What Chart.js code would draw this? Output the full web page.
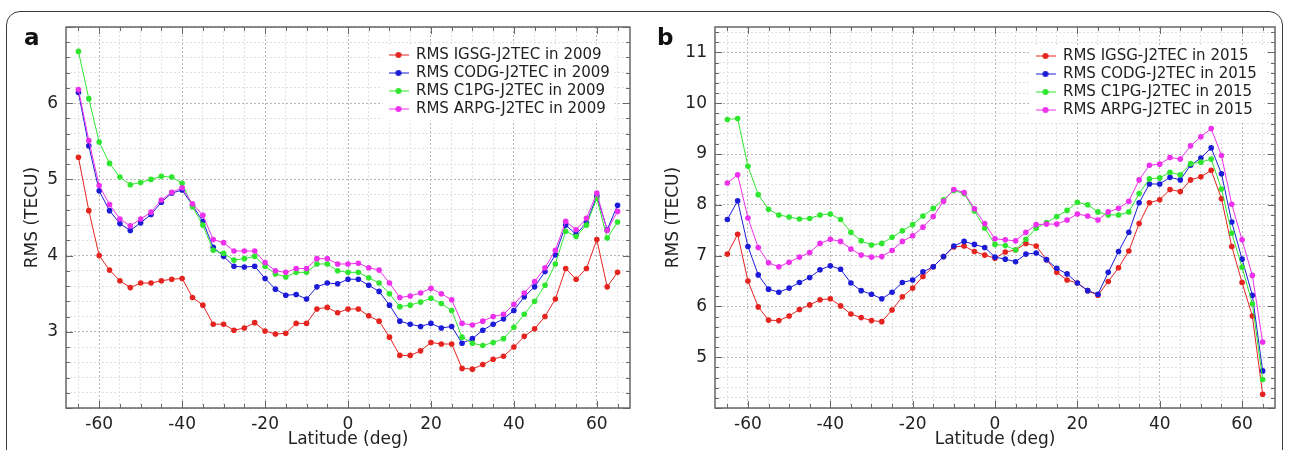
<!DOCTYPE html>
<html>
<head>
<meta charset="utf-8">
<script src="https://cdn.jsdelivr.net/npm/chart.js@4.4.1/dist/chart.umd.min.js"></script>
<style>
  html, body { margin: 0; padding: 0; background: #fff; overflow: hidden; }
  body { width: 1290px; height: 450px; position: relative; font-family: "DejaVu Sans", sans-serif; }
  .frame { position: absolute; left: 6px; top: 11px; width: 1277px; height: 520px; border: 1px solid #3a3a3a; border-radius: 14px; box-sizing: border-box; }
  .panel { position: absolute; top: 0; width: 645px; height: 450px; }
  .tag { position: absolute; top: 24px; font: bold 23px "DejaVu Sans", sans-serif; color: #111; }
</style>
</head>
<body>
<div class="frame"></div>
<div class="panel" style="left:0"><canvas id="chartA" width="645" height="450"></canvas></div>
<div class="panel" style="left:645px"><canvas id="chartB" width="645" height="450"></canvas></div>
<div class="tag" style="left:24px">a</div>
<div class="tag" style="left:657px">b</div>
<script>
'use strict';

var latitude = [-65, -62.5, -60, -57.5, -55, -52.5, -50, -47.5, -45, -42.5,
  -40, -37.5, -35, -32.5, -30, -27.5, -25, -22.5, -20, -17.5,
  -15, -12.5, -10, -7.5, -5, -2.5, 0, 2.5, 5, 7.5,
  10, 12.5, 15, 17.5, 20, 22.5, 25, 27.5, 30, 32.5,
  35, 37.5, 40, 42.5, 45, 47.5, 50, 52.5, 55, 57.5,
  60, 62.5, 65];

// panel a, 2009
var igsg2009 = [5.29, 4.59, 4.00, 3.81, 3.67, 3.58, 3.64, 3.64, 3.67, 3.69,
  3.70, 3.45, 3.35, 3.10, 3.10, 3.02, 3.05, 3.12, 3.01, 2.97,
  2.98, 3.11, 3.11, 3.30, 3.32, 3.25, 3.30, 3.30, 3.21, 3.14,
  2.93, 2.69, 2.69, 2.75, 2.86, 2.84, 2.84, 2.52, 2.51, 2.57,
  2.64, 2.68, 2.80, 2.94, 3.04, 3.20, 3.43, 3.83, 3.69, 3.83,
  4.21, 3.59, 3.78];
var codg2009 = [6.14, 5.44, 4.85, 4.59, 4.42, 4.33, 4.43, 4.54, 4.70, 4.82,
  4.86, 4.66, 4.45, 4.11, 3.99, 3.86, 3.85, 3.86, 3.70, 3.56,
  3.48, 3.49, 3.43, 3.59, 3.64, 3.63, 3.69, 3.69, 3.61, 3.53,
  3.35, 3.14, 3.10, 3.07, 3.11, 3.05, 3.07, 2.85, 2.91, 3.02,
  3.10, 3.17, 3.28, 3.46, 3.59, 3.79, 4.01, 4.40, 4.28, 4.43,
  4.78, 4.34, 4.66];
var c1pg2009 = [6.68, 6.06, 5.49, 5.21, 5.03, 4.93, 4.96, 5.00, 5.04, 5.03,
  4.95, 4.64, 4.40, 4.07, 4.03, 3.94, 3.96, 3.99, 3.86, 3.76,
  3.72, 3.78, 3.78, 3.89, 3.89, 3.80, 3.78, 3.78, 3.71, 3.64,
  3.50, 3.33, 3.35, 3.39, 3.44, 3.37, 3.28, 2.93, 2.85, 2.82,
  2.86, 2.91, 3.06, 3.23, 3.40, 3.61, 3.89, 4.32, 4.25, 4.40,
  4.75, 4.23, 4.44];
var arpg2009 = [6.18, 5.51, 4.92, 4.67, 4.48, 4.39, 4.48, 4.57, 4.73, 4.83,
  4.89, 4.68, 4.53, 4.21, 4.17, 4.06, 4.06, 4.06, 3.91, 3.80,
  3.78, 3.83, 3.83, 3.96, 3.96, 3.89, 3.89, 3.90, 3.84, 3.81,
  3.64, 3.45, 3.47, 3.51, 3.57, 3.50, 3.42, 3.11, 3.09, 3.14,
  3.20, 3.23, 3.36, 3.51, 3.66, 3.84, 4.07, 4.45, 4.34, 4.49,
  4.82, 4.33, 4.58];

// panel b, 2015
var igsg2015 = [7.03, 7.42, 6.50, 5.99, 5.73, 5.72, 5.81, 5.94, 6.03, 6.13,
  6.15, 6.01, 5.85, 5.78, 5.72, 5.70, 5.93, 6.19, 6.36, 6.59,
  6.78, 6.98, 7.17, 7.19, 7.08, 7.01, 6.95, 7.07, 7.11, 7.24,
  7.19, 6.92, 6.67, 6.52, 6.46, 6.31, 6.22, 6.49, 6.76, 7.09,
  7.63, 8.04, 8.10, 8.30, 8.26, 8.49, 8.55, 8.68, 8.12, 7.18,
  6.47, 5.81, 4.27];
var codg2015 = [7.71, 8.08, 7.18, 6.62, 6.34, 6.28, 6.36, 6.47, 6.57, 6.72,
  6.80, 6.73, 6.46, 6.31, 6.24, 6.15, 6.28, 6.47, 6.52, 6.68,
  6.78, 6.98, 7.19, 7.28, 7.22, 7.16, 6.97, 6.93, 6.88, 7.03,
  7.05, 6.92, 6.75, 6.64, 6.46, 6.31, 6.24, 6.67, 7.08, 7.46,
  8.04, 8.41, 8.41, 8.54, 8.49, 8.78, 8.92, 9.12, 8.61, 7.66,
  6.93, 6.22, 4.73];
var c1pg2015 = [9.68, 9.70, 8.76, 8.20, 7.91, 7.80, 7.76, 7.72, 7.73, 7.80,
  7.82, 7.71, 7.46, 7.29, 7.21, 7.24, 7.36, 7.49, 7.61, 7.78,
  7.93, 8.10, 8.28, 8.22, 7.88, 7.54, 7.22, 7.20, 7.11, 7.32,
  7.54, 7.65, 7.77, 7.89, 8.05, 8.00, 7.86, 7.80, 7.80, 7.86,
  8.22, 8.51, 8.53, 8.64, 8.59, 8.81, 8.84, 8.90, 8.31, 7.44,
  6.77, 6.05, 4.56];
var arpg2015 = [8.43, 8.59, 7.74, 7.16, 6.86, 6.78, 6.87, 6.97, 7.06, 7.24,
  7.32, 7.28, 7.13, 7.01, 6.97, 6.98, 7.10, 7.28, 7.39, 7.56,
  7.77, 8.07, 8.30, 8.24, 7.92, 7.63, 7.33, 7.31, 7.29, 7.46,
  7.61, 7.62, 7.62, 7.70, 7.82, 7.78, 7.70, 7.86, 7.93, 8.07,
  8.49, 8.78, 8.80, 8.93, 8.90, 9.16, 9.34, 9.50, 8.97, 8.01,
  7.31, 6.61, 5.30];

var colors = ['#e5231f', '#1b1bd8', '#2fe62f', '#ec30ec'];
var textColor = '#222';

Chart.defaults.font.family = '"DejaVu Sans", sans-serif';

function legendMark(color) {
  var c = document.createElement('canvas');
  c.width = 20; c.height = 8;
  var g = c.getContext('2d');
  g.strokeStyle = color; g.lineWidth = 1;
  g.beginPath(); g.moveTo(0, 4); g.lineTo(20, 4); g.stroke();
  g.fillStyle = color;
  g.beginPath(); g.arc(10, 4, 3, 0, Math.PI * 2); g.fill();
  return c;
}
var marks = colors.map(legendMark);

// legend in the top right corner of the plot, on white
var legendSpot = {
  id: 'legendSpot',
  afterLayout: function (chart, args, opts) {
    var lg = chart.legend;
    lg.left = opts.x; lg.top = opts.y;
    if (!lg._onWhite) {
      var draw = lg.draw.bind(lg);
      lg.draw = function () {
        var ctx = chart.ctx;
        ctx.save();
        ctx.fillStyle = '#fff';
        ctx.fillRect(opts.x - 3, opts.y, opts.w, opts.h);
        ctx.restore();
        draw();
      };
      lg._onWhite = true;
    }
  }
};

// box round the plot with inward ticks
var boxTicks = {
  id: 'boxTicks',
  afterDraw: function (chart) {
    var ctx = chart.ctx, a = chart.chartArea, x = chart.scales.x, y = chart.scales.y;
    ctx.save();
    ctx.strokeStyle = '#666';
    ctx.lineWidth = 1;
    ctx.beginPath();
    x.ticks.forEach(function (t) {
      var px = Math.round(x.getPixelForValue(t.value)) + 0.5;
      var len = t.value % 20 === 0 ? 7 : 4;
      ctx.moveTo(px, a.top); ctx.lineTo(px, a.top + len);
      ctx.moveTo(px, a.bottom); ctx.lineTo(px, a.bottom - len);
    });
    y.ticks.forEach(function (t) {
      var py = Math.round(y.getPixelForValue(t.value)) + 0.5;
      var len = isWhole(t.value) ? 7 : 4;
      ctx.moveTo(a.left, py); ctx.lineTo(a.left + len, py);
      ctx.moveTo(a.right, py); ctx.lineTo(a.right - len, py);
    });
    ctx.stroke();
    ctx.lineWidth = 1.5;
    ctx.strokeRect(a.left, a.top, a.right - a.left, a.bottom - a.top);
    ctx.restore();
  }
};

function isWhole(v) {
  return Math.abs(v - Math.round(v)) < 1e-6;
}

function makeChart(id, series, year, yMin, yMax, axisWidth, titlePad, spot) {
  var names = ['RMS IGSG-J2TEC in ', 'RMS CODG-J2TEC in ', 'RMS C1PG-J2TEC in ', 'RMS ARPG-J2TEC in '];
  var datasets = series.map(function (vals, i) {
    return {
      label: names[i] + year,
      data: latitude.map(function (lat, k) { return {x: lat, y: vals[k]}; }),
      borderColor: colors[i],
      backgroundColor: colors[i],
      borderWidth: 1,
      pointRadius: 2.8,
      pointBorderWidth: 0,
      pointHoverRadius: 3,
      tension: 0,
      order: 4 - i
    };
  });

  return new Chart(document.getElementById(id), {
    type: 'line',
    data: {datasets: datasets},
    plugins: [legendSpot, boxTicks],
    options: {
      responsive: false,
      animation: false,
      layout: {padding: {top: 27, right: 15, left: 0, bottom: 0}},
      plugins: {
        tooltip: {enabled: false},
        legendSpot: spot,
        legend: {
          position: 'chartArea',
          align: 'start',
          labels: {
            color: textColor,
            font: {size: 15},
            usePointStyle: true,
            pointStyleWidth: 20,
            padding: 3,
            generateLabels: function (chart) {
              var items = Chart.defaults.plugins.legend.labels.generateLabels(chart);
              items.sort(function (p, q) { return p.datasetIndex - q.datasetIndex; });
              items.forEach(function (it) { it.pointStyle = marks[it.datasetIndex]; });
              return items;
            }
          }
        }
      },
      scales: {
        x: {
          type: 'linear',
          min: -68,
          max: 68,
          afterFit: function (s) { s.height = 42; },
          ticks: {
            stepSize: 5,
            autoSkip: false,
            includeBounds: false,
            maxRotation: 0,
            padding: 6,
            color: textColor,
            font: {size: 17},
            callback: function (v) { return v % 20 === 0 ? String(v) : ''; }
          },
          grid: {
            drawTicks: false,
            color: function (c) { return c.tick && c.tick.value % 20 === 0 ? '#b8b8b8' : '#e0e0e0'; }
          },
          border: {display: false, dash: [2, 2]},
          title: {display: true, text: 'Latitude (deg)', color: textColor, font: {size: 17}, padding: {top: 2, bottom: 0}}
        },
        y: {
          min: yMin,
          max: yMax,
          afterFit: function (s) { s.width = axisWidth; },
          ticks: {
            stepSize: 0.2,
            autoSkip: false,
            includeBounds: false,
            padding: 8,
            color: textColor,
            font: {size: 17},
            callback: function (v) {
              return isWhole(v) && v > yMin + 0.5 && v < yMax - 0.3 ? String(Math.round(v)) : '';
            }
          },
          grid: {
            drawTicks: false,
            color: function (c) { return c.tick && isWhole(c.tick.value) ? '#b8b8b8' : '#e0e0e0'; }
          },
          border: {display: false, dash: [2, 2]},
          title: {display: true, text: 'RMS (TECU)', color: textColor, font: {size: 17}, padding: {top: titlePad, bottom: 0}}
        }
      }
    }
  });
}

makeChart('chartA', [igsg2009, codg2009, c1pg2009, arpg2009], 2009, 2, 7, 66, 22,
  {x: 385.5, y: 44.5, w: 232, h: 76});
makeChart('chartB', [igsg2015, codg2015, c1pg2015, arpg2015], 2015, 4, 11.5, 70, 18,
  {x: 387.5, y: 45.5, w: 235, h: 76});
</script>
</body>
</html>
